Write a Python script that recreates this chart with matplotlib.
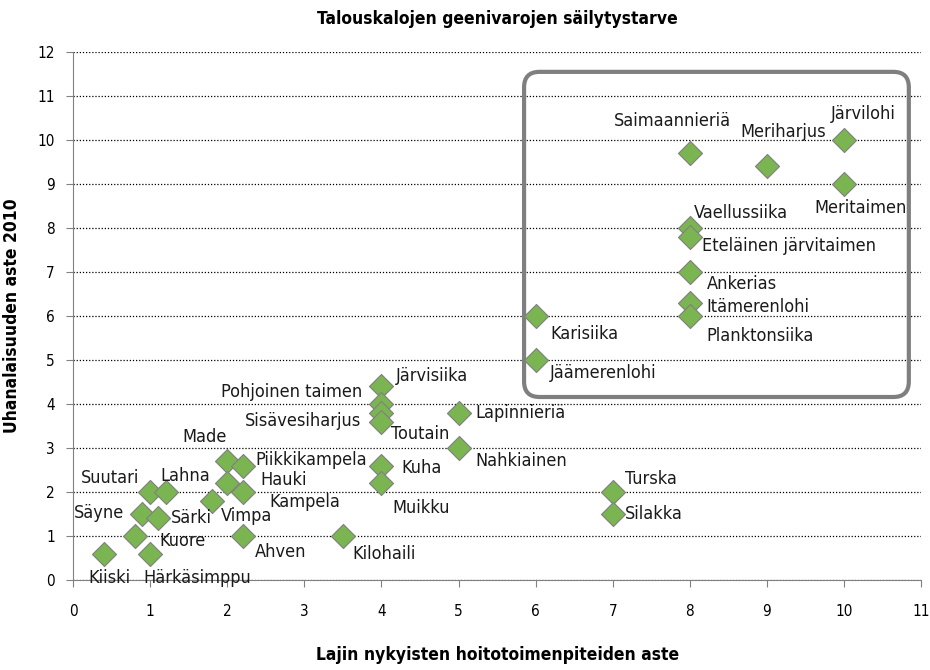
import matplotlib.pyplot as plt
from matplotlib.patches import FancyBboxPatch

plt.rcParams['font.family'] = ['DejaVu Sans']
plt.rcParams['font.stretch'] = 'condensed'

# Data
species = ['Kiiski', 'Härkäsimppu', 'Kuore', 'Säyne', 'Särki', 'Suutari', 'Lahna',
           'Vimpa', 'Made', 'Piikkikampela', 'Hauki', 'Kampela', 'Ahven', 'Kilohaili',
           'Järvisiika', 'Pohjoinen taimen', 'Sisävesiharjus', 'Toutain',
           'Lapinnieriä', 'Nahkiainen', 'Kuha', 'Muikku', 'Turska', 'Silakka',
           'Karisiika', 'Jäämerenlohi', 'Saimaannieriä', 'Meriharjus', 'Järvilohi',
           'Meritaimen', 'Vaellussiika', 'Eteläinen järvitaimen', 'Ankerias',
           'Itämerenlohi', 'Planktonsiika']
hoito = [0.4, 1.0, 0.8, 0.9, 1.1, 1.0, 1.2,
         1.8, 2.0, 2.2, 2.0, 2.2, 2.2, 3.5,
         4, 4, 4, 4,
         5, 5, 4, 4, 7, 7,
         6, 6, 8, 9, 10,
         10, 8, 8, 8,
         8, 8]
uhanalaisuus = [0.6, 0.6, 1.0, 1.5, 1.4, 2.0, 2.0,
                1.8, 2.7, 2.6, 2.2, 2.0, 1.0, 1.0,
                4.4, 4.0, 3.8, 3.6,
                3.8, 3.0, 2.6, 2.2, 2.0, 1.5,
                6.0, 5.0, 9.7, 9.4, 10.0,
                9.0, 8.0, 7.8, 7.0,
                6.3, 6.0]

# label placement: (dx px, dy px, horizontal alignment)
label_pos = {
    'Kiiski': (-15, -24, 'left'), 'Härkäsimppu': (-7, -24, 'left'),
    'Kuore': (25, -5, 'left'), 'Säyne': (-18, 1, 'right'), 'Särki': (13, 0, 'left'),
    'Suutari': (-11, 14, 'right'), 'Lahna': (-5, 16, 'left'), 'Vimpa': (9, -15, 'left'),
    'Made': (0, 24, 'right'), 'Piikkikampela': (13, 6, 'left'), 'Hauki': (33, 3, 'left'),
    'Kampela': (27, -10, 'left'), 'Ahven': (12, -16, 'left'), 'Kilohaili': (10, -18, 'left'),
    'Järvisiika': (14, 10, 'left'), 'Pohjoinen taimen': (-19, 12, 'right'),
    'Sisävesiharjus': (-20, -8, 'right'), 'Toutain': (10, -12, 'left'),
    'Lapinnieriä': (17, 0, 'left'), 'Nahkiainen': (17, -13, 'left'),
    'Kuha': (20, -2, 'left'), 'Muikku': (11, -25, 'left'),
    'Turska': (12, 13, 'left'), 'Silakka': (12, 0, 'left'),
    'Karisiika': (15, -18, 'left'), 'Jäämerenlohi': (14, -13, 'left'),
    'Saimaannieriä': (-76, 32, 'left'), 'Meriharjus': (-27, 34, 'left'),
    'Järvilohi': (-13, 26, 'left'), 'Meritaimen': (-30, -24, 'left'),
    'Vaellussiika': (4, 15, 'left'), 'Eteläinen järvitaimen': (12, -9, 'left'),
    'Ankerias': (17, -12, 'left'), 'Itämerenlohi': (17, -4, 'left'),
    'Planktonsiika': (17, -20, 'left'),
}

fig = plt.figure(figsize=(9.3, 6.7), dpi=100)
ax = fig.add_axes([0.0785, 0.1343, 0.912, 0.788])

ax.scatter(hoito, uhanalaisuus, marker='D', s=150, color='#7ab552',
           edgecolor='#808080', linewidth=0.8, zorder=3)

for name, x, y in zip(species, hoito, uhanalaisuus):
    dx, dy, ha = label_pos[name]
    ax.annotate(name, (x, y), xytext=(dx, dy), textcoords='offset pixels',
                ha=ha, va='center', fontsize=13, color='#1a1a1a', zorder=4)

# highlight box
box = FancyBboxPatch((5.85, 4.16), 4.99, 7.39, boxstyle='round,pad=0,rounding_size=0.2',
                     transform=ax.transData, fill=False, edgecolor='#7f7f7f',
                     linewidth=3, zorder=2, mutation_aspect=1.76)
ax.add_patch(box)

ax.set_xlim(0, 11)
ax.set_ylim(0, 12)
ax.set_xticks(range(0, 12))
ax.set_yticks(range(0, 13))
ax.yaxis.grid(True, linestyle=(0, (1, 1.5)), color='black', linewidth=0.9)
ax.set_axisbelow(True)
for s in ['top', 'right']:
    ax.spines[s].set_visible(False)
for s in ['left', 'bottom']:
    ax.spines[s].set_color('#808080')
ax.tick_params(axis='x', length=5, color='#808080', pad=12, labelsize=11)
ax.tick_params(axis='y', length=5, color='#808080', pad=8, labelsize=11)

ax.set_title('Talouskalojen geenivarojen säilytystarve', fontsize=12.5,
             fontweight='bold', pad=20)
ax.set_xlabel('Lajin nykyisten hoitotoimenpiteiden aste', fontsize=12.5,
              fontweight='bold', labelpad=20)
ax.set_ylabel('Uhanalaisuuden aste 2010', fontsize=12.5, fontweight='bold', labelpad=12)

fig.savefig('out.png', dpi=100)
